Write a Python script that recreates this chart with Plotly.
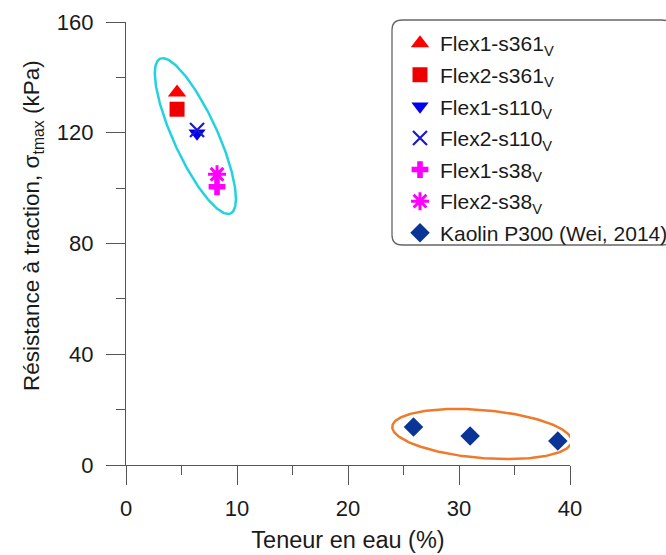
import numpy as np
import plotly.graph_objects as go

# ---------------- data ----------------
flex1_s361_w = [4.6];  flex1_s361_s = [134.5]
flex2_s361_w = [4.6];  flex2_s361_s = [128.5]
flex1_s110_w = [6.4];  flex1_s110_s = [119.8]
flex2_s110_w = [6.4];  flex2_s110_s = [121.0]
flex1_s38_w = [8.2];   flex1_s38_s = [100.5]
flex2_s38_w = [8.2];   flex2_s38_s = [105.0]
kaolin_w = [25.9, 31.0, 38.9]
kaolin_s = [13.7, 10.5, 8.7]

x_ticks = [0, 10, 20, 30, 40]
y_ticks = [0, 40, 80, 120, 160]

# ---------------- layout geometry ----------------
W, H = 666, 555
L, R, T, B = 126, 96, 22, 90
pw, ph = W - L - R, H - T - B
xr, yr = [0, 40], [0, 160]
kx = pw / (xr[1] - xr[0])   # px per x unit
ky = ph / (yr[1] - yr[0])   # px per y unit

FONT = "Liberation Sans, Arial, sans-serif"
AX = "#555555"

def ellipse(cx, cy, a_px, b_px, ang_deg, n=240):
    t = np.linspace(0, 2 * np.pi, n)
    ang = np.deg2rad(ang_deg)
    ex = a_px * np.cos(t)
    ey = b_px * np.sin(t)
    rx = ex * np.cos(ang) - ey * np.sin(ang)
    ry = ex * np.sin(ang) + ey * np.cos(ang)
    return cx + rx / kx, cy + ry / ky

fig = go.Figure()

# grouping ellipses
ex1, ey1 = ellipse(6.25, 118.8, 85, 22, -65.5)
ex2, ey2 = ellipse(32.07, 11.2, 90, 24, -4.8)
fig.add_trace(go.Scatter(x=ex1, y=ey1, mode="lines", line=dict(color="#22d3df", width=2.5),
                         showlegend=False, hoverinfo="skip"))
fig.add_trace(go.Scatter(x=ex2, y=ey2, mode="lines", line=dict(color="#ef7a2a", width=2.5),
                         showlegend=False, hoverinfo="skip"))

series = [
    ("Flex1-s361<sub>V</sub>", flex1_s361_w, flex1_s361_s, dict(symbol="triangle-up", size=16, color="#ff0000")),
    ("Flex2-s361<sub>V</sub>", flex2_s361_w, flex2_s361_s, dict(symbol="square", size=15, color="#ee0000")),
    ("Flex1-s110<sub>V</sub>", flex1_s110_w, flex1_s110_s, dict(symbol="triangle-down", size=15, color="#0000ee")),
    ("Flex2-s110<sub>V</sub>", flex2_s110_w, flex2_s110_s, dict(symbol="x-thin-open", size=14, color="#1a1acc",
                                                                line=dict(width=2.2, color="#1a1acc"))),
    ("Flex1-s38<sub>V</sub>", flex1_s38_w, flex1_s38_s, dict(symbol="cross", size=14, color="#ff00ff")),
    ("Flex2-s38<sub>V</sub>", flex2_s38_w, flex2_s38_s, dict(symbol="asterisk-open", size=15, color="#ff00ff",
                                                              line=dict(width=3, color="#ff00ff"))),
    ("Kaolin P300 (Wei, 2014)", kaolin_w, kaolin_s, dict(symbol="diamond", size=15, color="#0a3596")),
]
for i, (name, xs, ys, mk) in enumerate(series):
    fig.add_trace(go.Scatter(x=xs, y=ys, mode="markers", name=name, marker=mk,
                             legendgroup=f"g{i}", cliponaxis=False))

# rounded legend frame (paper coordinates)
def px2paper(px, py):
    return (px - L) / pw, (H - B - py) / ph

x0p, y0p = 392, 20
x1p, y1p = 672, 245
r = 10
def P(px, py):
    x, y = px2paper(px, py)
    return f"{x:.5f},{y:.5f}"
path = (f"M {P(x0p + r, y0p)} L {P(x1p - r, y0p)} Q {P(x1p, y0p)} {P(x1p, y0p + r)} "
        f"L {P(x1p, y1p - r)} Q {P(x1p, y1p)} {P(x1p - r, y1p)} "
        f"L {P(x0p + r, y1p)} Q {P(x0p, y1p)} {P(x0p, y1p - r)} "
        f"L {P(x0p, y0p + r)} Q {P(x0p, y0p)} {P(x0p + r, y0p)} Z")
fig.add_shape(type="path", path=path, xref="paper", yref="paper",
              line=dict(color="#666666", width=1.3), fillcolor="rgba(0,0,0,0)", layer="below")

lgx, lgy = px2paper(400, 23)
ytx, yty = px2paper(33, 226)

fig.add_annotation(text="Résistance à traction, σ<sub>tmax</sub> (kPa)", textangle=-90,
                   x=ytx, y=yty, xref="paper", yref="paper", xanchor="center", yanchor="middle",
                   showarrow=False, font=dict(family=FONT, size=22.5, color="#1a1a1a"))

fig.update_layout(
    width=W, height=H,
    margin=dict(l=L, r=R, t=T, b=B, autoexpand=False),
    plot_bgcolor="white", paper_bgcolor="white",
    font=dict(family=FONT, size=20, color="#1a1a1a"),
    showlegend=True,
    legend=dict(x=lgx, y=lgy, xanchor="left", yanchor="top",
                font=dict(family=FONT, size=21, color="#1a1a1a"),
                bgcolor="rgba(0,0,0,0)", borderwidth=0,
                tracegroupgap=1.3, traceorder="grouped"),
    xaxis=dict(range=xr, tickvals=x_ticks, ticks="outside", ticklen=19, tickwidth=1.2,
               tickcolor=AX, showline=True, linecolor=AX, linewidth=1.2,
               showgrid=False, zeroline=False, ticklabelstandoff=4,
               minor=dict(dtick=5, ticks="outside", ticklen=9, tickwidth=1.2, tickcolor=AX),
               tickfont=dict(size=22), title=dict(text="Teneur en eau (%)", font=dict(size=23.5), standoff=12)),
    yaxis=dict(range=yr, tickvals=y_ticks, ticks="outside", ticklen=19, tickwidth=1.2,
               tickcolor=AX, showline=True, linecolor=AX, linewidth=1.2,
               showgrid=False, zeroline=False, ticklabelstandoff=8,
               minor=dict(dtick=20, ticks="outside", ticklen=9, tickwidth=1.2, tickcolor=AX),
               tickfont=dict(size=22)),
)

fig.write_html("out.html", config={"displayModeBar": False},
               post_script="document.body.style.margin='0';document.body.style.padding='0';")
